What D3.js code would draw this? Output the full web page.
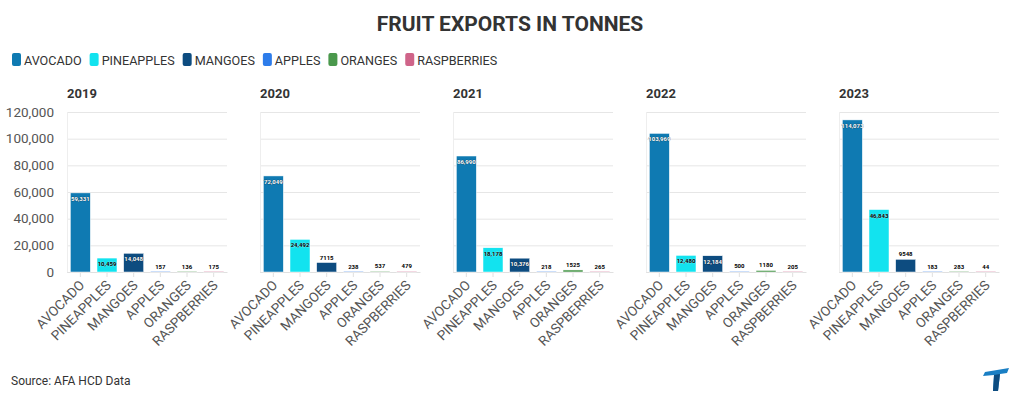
<!DOCTYPE html>
<html><head><meta charset="utf-8">
<script src="https://cdn.jsdelivr.net/npm/d3@7"></script>
<style>body{margin:0;background:#fff}svg{display:block;font-family:Roboto,"Noto Sans",sans-serif}</style>
</head><body><svg id="c" width="1020" height="403"></svg>
<script>
const categories = ["AVOCADO","PINEAPPLES","MANGOES","APPLES","ORANGES","RASPBERRIES"];
const years = ["2019","2020","2021","2022","2023"];
const v2019 = [59331,10459,14048,157,136,175];
const v2020 = [72049,24492,7115,238,537,479];
const v2021 = [86990,18178,10376,218,1525,265];
const v2022 = [103969,12480,12184,500,1180,205];
const v2023 = [114073,46843,9548,183,283,44];
const yTicks = [0,20000,40000,60000,80000,100000,120000];
const colors = ["#0f7ab2","#12e3ef","#0d4c80","#2d7cea","#4a984c","#cf6489"];
const labelInk = ["#fff","#000","#fff","#000","#000","#000"];
const seriesByYear = [v2019,v2020,v2021,v2022,v2023];
const FF = "Roboto,'Noto Sans',sans-serif";

const svg = d3.select("#c");
svg.append("text").attr("x",510).attr("y",31).attr("text-anchor","middle")
  .attr("font-size",21).attr("font-weight",700).attr("fill","#333").text("FRUIT EXPORTS IN TONNES");

// legend
let lx = 12;
categories.forEach((c,i)=>{
  const g = svg.append("g");
  g.append("rect").attr("x",lx).attr("y",53).attr("width",9).attr("height",13).attr("rx",2).attr("fill",colors[i]);
  const t = g.append("text").attr("x",lx+12).attr("y",65).attr("font-size",12.6).attr("fill","#333").text(c);
  lx += 12 + t.node().getComputedTextLength() + 8;
});

const y = d3.scaleLinear().domain([0,120000]).range([272,112]);
const fmt = v => v >= 10000 ? d3.format(",")(v) : String(v);

seriesByYear.forEach((vals,p)=>{
  const x0 = 67 + 193*p;
  const x = d3.scaleBand().domain(categories).range([x0, x0+160]).paddingInner(0.25).paddingOuter(0.125);
  const g = svg.append("g");
  g.append("text").attr("x",x0).attr("y",98).attr("font-size",13).attr("font-weight",700).attr("fill","#333").text(years[p]);
  // grid
  g.selectAll("line.grid").data(yTicks).join("line")
    .attr("x1",x0).attr("x2",x0+160).attr("y1",d=>y(d)+0.5).attr("y2",d=>y(d)+0.5)
    .attr("stroke","#e6e6e6").attr("stroke-width",1);
  g.append("line").attr("x1",x0+0.5).attr("x2",x0+0.5).attr("y1",112).attr("y2",272).attr("stroke","#eeeeee");
  // x axis
  const ax = g.append("g").attr("transform","translate(0,272)").call(d3.axisBottom(x).tickSize(5).tickSizeOuter(0));
  ax.select(".domain").attr("stroke","#e0e0e0");
  ax.selectAll(".tick line").attr("stroke","#e0e0e0");
  ax.selectAll(".tick text").attr("font-size",13.5).attr("fill","#555").attr("font-family",FF)
    .attr("text-anchor","end").attr("dy",0).attr("y",0)
    .attr("transform","translate(5,14) rotate(-45)");
  if(p===0){
    const ay = g.append("g").attr("transform",`translate(${x0-10},0)`).call(d3.axisLeft(y).tickValues(yTicks).tickSize(0).tickFormat(d3.format(",")));
    ay.select(".domain").remove();
    ay.selectAll("text").attr("font-size",13.5).attr("fill","#555").attr("font-family",FF);
  }
  // bars
  const data = vals.map((v,i)=>({c:categories[i],v,i}));
  g.selectAll("rect.bar").data(data).join("rect")
    .attr("x",d=>x(d.c)).attr("width",x.bandwidth())
    .attr("y",d=>Math.min(y(d.v),271)).attr("height",d=>Math.max(272-y(d.v),1))
    .attr("fill",d=>colors[d.i]).attr("fill-opacity",d=>272-y(d.v)<1?0.5:1)
    .attr("stroke","#fff").attr("stroke-width",0.5);
  g.selectAll("text.lab").data(data).join("text")
    .attr("x",d=>x(d.c)+x.bandwidth()/2)
    .attr("y",d=>272-y(d.v)>=13.5 ? y(d.v)+8 : y(d.v)-3)
    .attr("text-anchor","middle").attr("font-size",6).attr("font-weight",700)
    .attr("fill",d=>272-y(d.v)>=13.5 ? labelInk[d.i] : "#000")
    .attr("stroke",d=>272-y(d.v)>=13.5 ? (labelInk[d.i]==="#fff"?"#000":"#fff") : "#fff")
    .attr("stroke-width",0.6).attr("paint-order","stroke").attr("stroke-opacity",0.5)
    .text(d=>fmt(d.v));
});

svg.append("text").attr("x",11).attr("y",385).attr("font-size",12).attr("fill","#333").text("Source: AFA HCD Data");
// logo
const lg = svg.append("g");
lg.append("path").attr("d","M985 372 L1009 368 L1007 373 L1000 374 L998 391 L993 391 L994 375 L983 376 Z").attr("fill","#1a7fc4");
lg.append("path").attr("d","M994 375 L1000 374 L998 391 L993 391 Z").attr("fill","#0d4c80");
</script></body></html>
